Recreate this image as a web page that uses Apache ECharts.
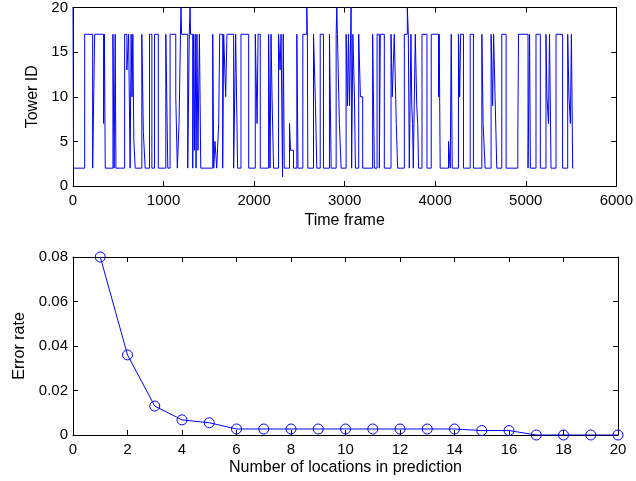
<!DOCTYPE html>
<html>
<head>
<meta charset="utf-8">
<script src="https://cdn.jsdelivr.net/npm/echarts@6/dist/echarts.min.js"></script>
<style>
html,body{margin:0;padding:0;background:#fff;}
#c{width:636px;height:481px;}
</style>
</head>
<body>
<div id="c"></div>
<script>
// ---- Top panel: tower ID over time (values change at these time frames) ----
const towerTimes = [0,6,129,217,239,338,347,356,441,454,466,474,570,595,614,631,642,652,661,672,687,760,777,797,845,871,900,942,1025,1047,1072,1135,1152,1171,1187,1193,1199,1267,1284,1293,1298,1322,1331,1340,1350,1359,1369,1380,1396,1411,1543,1554,1568,1587,1609,1620,1653,1664,1686,1700,1774,1796,1818,1855,1940,2013,2033,2044,2068,2160,2176,2187,2198,2215,2270,2287,2298,2314,2322,2333,2391,2402,2435,2472,2485,2538,2582,2588,2593,2656,2678,2692,2730,2766,2832,2851,2906,2913,2920,2942,2961,3016,3031,3042,3053,3071,3077,3091,3108,3119,3155,3174,3199,3309,3328,3358,3383,3394,3438,3512,3526,3548,3570,3585,3659,3692,3703,3714,3732,3741,3750,3758,3780,3796,3807,3816,3854,3909,3956,4037,4044,4055,4147,4166,4177,4188,4257,4270,4281,4312,4386,4422,4515,4529,4551,4617,4634,4645,4661,4680,4735,4783,4912,4920,5025,5042,5051,5113,5161,5223,5234,5251,5262,5279,5334,5407,5463,5477,5493,5504,5518,5527];
const towerIds = [20,2,17,2,17,7,17,2,17,2,17,2,17,13,17,2,17,10,17,5,2,17,6,2,17,2,17,2,17,2,17,10,2,7,17,20,17,2,17,20,17,2,17,4,17,2,17,4,17,2,17,2,5,2,7,17,2,17,10,17,2,17,2,17,2,17,7,17,2,17,2,17,10,2,17,13,17,1,17,2,7,4,2,17,2,17,20,17,2,17,9,2,17,2,17,2,17,20,17,7,2,17,9,17,9,20,2,17,10,2,17,10,2,17,2,17,2,17,2,17,10,17,7,2,17,20,17,2,17,9,7,2,17,9,7,2,17,2,17,10,17,2,5,2,17,2,17,10,17,2,17,2,17,7,2,17,9,17,10,2,17,2,5,17,2,17,2,17,2,17,10,7,17,2,17,2,17,10,7,17,2,2];
const timeTicks = [0,1000,2000,3000,4000,5000,6000];
const towerTicks = [0,5,10,15,20];

// ---- Bottom panel: error rate vs number of locations ----
const numLocations = [1,2,3,4,5,6,7,8,9,10,11,12,13,14,15,16,17,18,19,20];
const errorRate = [0.080,0.036,0.013,0.0068,0.0055,0.0027,0.0027,0.0027,0.0027,0.0027,0.0027,0.0027,0.0027,0.0027,0.002,0.002,0,0,0,0];
const locTicks = [0,2,4,6,8,10,12,14,16,18,20];
const errTicks = [0,0.02,0.04,0.06,0.08];

const FONT = '"Liberation Sans", Arial, Helvetica, sans-serif';
const TXT = '#000';
const BLUE = '#0000ff';

// step path: hold previous value until the next change time
const towerData = [];
towerTimes.forEach((t, i) => {
  if (i > 0) towerData.push([t, towerIds[i-1]]);
  towerData.push([t, towerIds[i]]);
});
const errData = numLocations.map((k, i) => [k, errorRate[i]]);

function fmt(v) { return String(+v.toFixed(4)); }

function xAx(grid, ticks, pos, name, gap, labels) {
  return {
    type: 'value', gridIndex: grid, position: pos,
    min: ticks[0], max: ticks[ticks.length-1], interval: ticks[1]-ticks[0],
    name: labels ? name : '', nameLocation: 'middle', nameGap: gap,
    nameTextStyle: {color: TXT, fontSize: 16, fontFamily: FONT},
    axisLine: {show: true, onZero: false, lineStyle: {color: '#000', width: 1}},
    axisTick: {show: true, inside: true, length: 5, lineStyle: {color: '#000'}},
    axisLabel: {show: labels, color: TXT, fontSize: 15, fontFamily: FONT, margin: 7, formatter: fmt},
    splitLine: {show: false}
  };
}
function yAx(grid, ticks, pos, name, gap, labels) {
  return {
    type: 'value', gridIndex: grid, position: pos,
    min: ticks[0], max: ticks[ticks.length-1], interval: ticks[1]-ticks[0],
    name: labels ? name : '', nameLocation: 'middle', nameGap: gap, nameRotate: 90,
    nameTextStyle: {color: TXT, fontSize: 16, fontFamily: FONT},
    axisLine: {show: true, onZero: false, lineStyle: {color: '#000', width: 1}},
    axisTick: {show: true, inside: true, length: 5, lineStyle: {color: '#000'}},
    axisLabel: {show: labels, color: TXT, fontSize: 15, fontFamily: FONT, margin: 5, formatter: fmt},
    splitLine: {show: false}
  };
}

const chart = echarts.init(document.getElementById('c'), null, {renderer: 'canvas'});
chart.setOption({
  animation: false,
  backgroundColor: '#fff',
  grid: [
    {left: 73, right: 18, top: 7, height: 179},
    {left: 73, right: 18, top: 257, height: 178}
  ],
  xAxis: [
    xAx(0, timeTicks, 'bottom', 'Time frame', 27, true),
    xAx(0, timeTicks, 'top', '', 0, false),
    xAx(1, locTicks, 'bottom', 'Number of locations in prediction', 25, true),
    xAx(1, locTicks, 'top', '', 0, false)
  ],
  yAxis: [
    yAx(0, towerTicks, 'left', 'Tower ID', 31, true),
    yAx(0, towerTicks, 'right', '', 0, false),
    yAx(1, errTicks, 'left', 'Error rate', 45, true),
    yAx(1, errTicks, 'right', '', 0, false)
  ],
  series: [
    {
      type: 'line', xAxisIndex: 0, yAxisIndex: 0, data: towerData,
      showSymbol: false, symbol: 'none', sampling: null,
      lineStyle: {color: BLUE, width: 1}, silent: true
    },
    {
      type: 'line', xAxisIndex: 2, yAxisIndex: 2, data: errData,
      symbol: 'circle', symbolSize: 10, showSymbol: true,
      itemStyle: {color: 'rgba(255,255,255,0)', borderColor: BLUE, borderWidth: 1},
      lineStyle: {color: BLUE, width: 1}, silent: true
    }
  ]
});
</script>
</body>
</html>
